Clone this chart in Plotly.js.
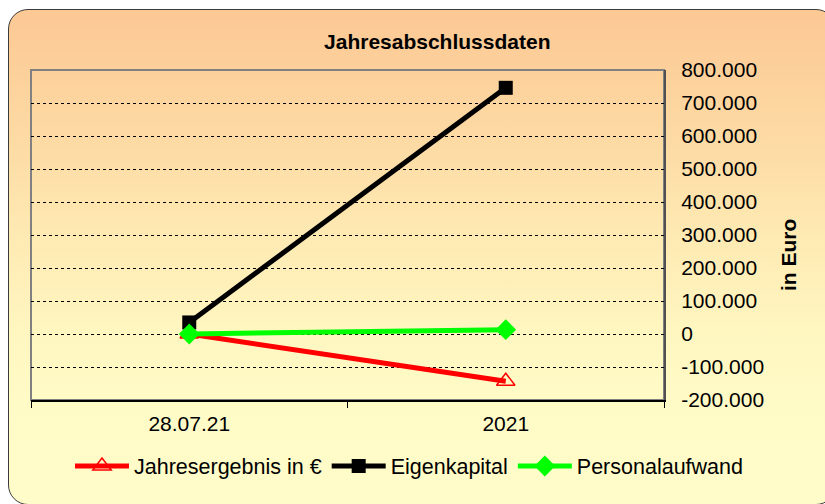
<!DOCTYPE html>
<html>
<head>
<meta charset="utf-8">
<script src="https://cdn.plot.ly/plotly-3.0.1.min.js"></script>
<style>
  html, body { margin: 0; padding: 0; background: #ffffff; overflow: hidden; }
  #wrap { position: relative; width: 825px; height: 504px; overflow: hidden; }
  #frame {
    position: absolute; left: 8px; top: 9px; width: 828px; height: 496px;
    box-sizing: border-box; border: 1.5px solid #3a3a3a; border-radius: 20px;
    background: linear-gradient(to bottom, #fcc894 0%, #fdd9a3 25%, #fee9b2 45%, #fff6c0 65%, #fffbc7 80%, #fffcc9 100%);
  }
  #chart { position: absolute; left: 0; top: 0; width: 825px; height: 504px; }
</style>
</head>
<body>
<div id="wrap">
  <div id="frame"></div>
  <div id="chart"></div>
</div>
<script>
// ---- data ----
const categories = ["28.07.21", "2021"];
const jahresergebnis = [0, -143000];
const eigenkapital = [35000, 746000];
const personalaufwand = [0, 13000];
const seriesNames = ["Jahresergebnis in €", "Eigenkapital", "Personalaufwand"];
const yTickVals = [-200000, -100000, 0, 100000, 200000, 300000, 400000, 500000, 600000, 700000, 800000];
const yTickText = ["-200.000", "-100.000", "0", "100.000", "200.000", "300.000", "400.000", "500.000", "600.000", "700.000", "800.000"];
const yAxisTitle = "in Euro";

const FONT = "Liberation Sans, Arial, sans-serif";

const traces = [
  {
    x: categories, y: jahresergebnis, name: seriesNames[0], type: "scatter", mode: "lines+markers",
    line: { color: "#ff0000", width: 5 },
    marker: { symbol: "triangle-up-open", size: 16, color: "#ff0000", line: { color: "#ff0000", width: 1.5 } }
  },
  {
    x: categories, y: eigenkapital, name: seriesNames[1], type: "scatter", mode: "lines+markers",
    line: { color: "#000000", width: 5 },
    marker: { symbol: "square", size: 14, color: "#000000" }
  },
  {
    x: categories, y: personalaufwand, name: seriesNames[2], type: "scatter", mode: "lines+markers",
    line: { color: "#00ff00", width: 5 },
    marker: { symbol: "diamond", size: 16, color: "#00ff00" }
  }
];

const layout = {
  width: 825, height: 504,
  paper_bgcolor: "rgba(0,0,0,0)",
  plot_bgcolor: "rgba(0,0,0,0)",
  margin: { l: 31, r: 161, t: 70, b: 104, pad: 0 },
  font: { family: FONT, size: 21, color: "#000000" },
  title: {
    text: "<b>Jahresabschlussdaten</b>",
    font: { family: FONT, size: 21, color: "#000000" },
    xref: "container", yref: "container",
    x: 0.53, xanchor: "center", y: 1 - 42 / 504, yanchor: "middle"
  },
  xaxis: {
    type: "category",
    range: [-0.5, 1.5],
    showgrid: false,
    zeroline: false,
    showline: true, linecolor: "#000000", linewidth: 1.5,
    ticks: "outside", ticklen: 6, tickcolor: "#000000", tickwidth: 1,
    tickson: "boundaries",
    ticklabelstandoff: 4,
    tickfont: { family: FONT, size: 21, color: "#000000" },
    fixedrange: true
  },
  yaxis: {
    side: "right",
    range: [-200000, 800000],
    tickmode: "array", tickvals: yTickVals, ticktext: yTickText,
    showgrid: true, gridcolor: "#000000", gridwidth: 1, griddash: "dot",
    zeroline: false,
    showline: true, linecolor: "#505050", linewidth: 2,
    ticks: "", ticklabelstandoff: 11,
    tickfont: { family: FONT, size: 21, color: "#000000" },
    fixedrange: true
  },
  annotations: [
    {
      text: "<b>" + yAxisTitle + "</b>", textangle: -90, showarrow: false,
      xref: "paper", yref: "paper",
      x: (789 - 31) / 633, xanchor: "center",
      y: (400 - 255) / 330, yanchor: "middle",
      font: { family: FONT, size: 21, color: "#000000" }
    }
  ],
  shapes: [
    {
      type: "rect", xref: "paper", yref: "paper", x0: 0, x1: 1, y0: 0, y1: 1,
      line: { color: "#808080", width: 2 }, fillcolor: "rgba(0,0,0,0)", layer: "below"
    }
  ],
  showlegend: true,
  legend: {
    orientation: "h",
    xref: "paper", yref: "paper",
    x: (748 - 31) / 633, xanchor: "right",
    y: (400 - 466) / 330, yanchor: "middle",
    bgcolor: "rgba(0,0,0,0)",
    font: { family: FONT, size: 21.5, color: "#000000" },
    itemwidth: 54,
    traceorder: "normal"
  }
};

Plotly.newPlot("chart", traces, layout, { displayModeBar: false, staticPlot: true });
</script>
</body>
</html>
